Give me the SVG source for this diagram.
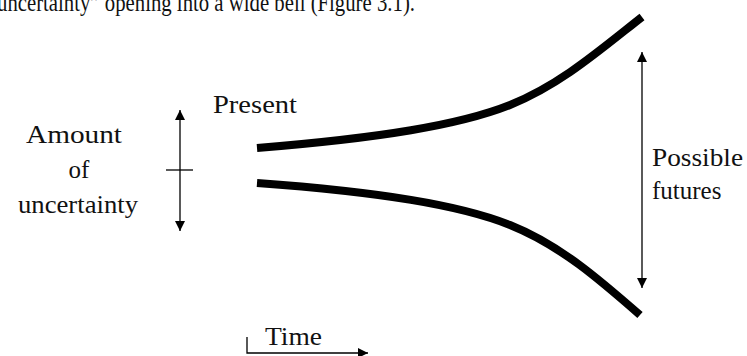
<svg xmlns="http://www.w3.org/2000/svg" width="747" height="356" viewBox="0 0 747 356">
<defs>
<style>
text{font-family:"Liberation Serif","DejaVu Serif",serif;fill:#111;font-size:25px}
.curve{fill:none;stroke:#000;stroke-width:8}
.ln{stroke:#000;stroke-width:1.3;fill:none}
</style>
<marker id="ah" viewBox="0 0 10 10" refX="10" refY="5" markerWidth="10" markerHeight="10" markerUnits="userSpaceOnUse" orient="auto-start-reverse">
<path d="M0,0L10,5L0,10z" fill="#000"/>
</marker>
</defs>
<text x="-3" y="11" font-size="26" textLength="418" lengthAdjust="spacingAndGlyphs">uncertainty” opening into a wide bell (Figure 3.1).</text>
<g id="funnel">
<path class="curve" d="M257,148 C380,138 460,125 510,105 C560,85 600,50 642,17"/>
<path class="curve" d="M257,183 C380,192 460,205 510,225 C560,245 600,280 640,315"/>
</g>
<g id="uncertainty">
<text x="74" y="143" text-anchor="middle" textLength="96" lengthAdjust="spacingAndGlyphs">Amount</text>
<text x="79" y="178" text-anchor="middle">of</text>
<text x="78" y="213" text-anchor="middle" textLength="120" lengthAdjust="spacingAndGlyphs">uncertainty</text>
</g>
<g id="present">
<text x="213" y="113" textLength="84" lengthAdjust="spacingAndGlyphs">Present</text>
</g>
<g id="futures">
<text x="652" y="166" textLength="91" lengthAdjust="spacingAndGlyphs">Possible</text>
<text x="652" y="199">futures</text>
</g>
<g id="time">
<text x="265" y="345" textLength="57" lengthAdjust="spacingAndGlyphs">Time</text>
</g>
<g id="connectors">
<line class="ln" x1="180" y1="110" x2="180" y2="231" marker-start="url(#ah)" marker-end="url(#ah)"/>
<line class="ln" x1="166" y1="170" x2="193" y2="170"/>
<line class="ln" x1="642" y1="52" x2="642" y2="288" stroke="#444" marker-start="url(#ah)" marker-end="url(#ah)"/>
<polyline class="ln" points="247,337 247,353 368,353" marker-end="url(#ah)"/>
</g>
</svg>
